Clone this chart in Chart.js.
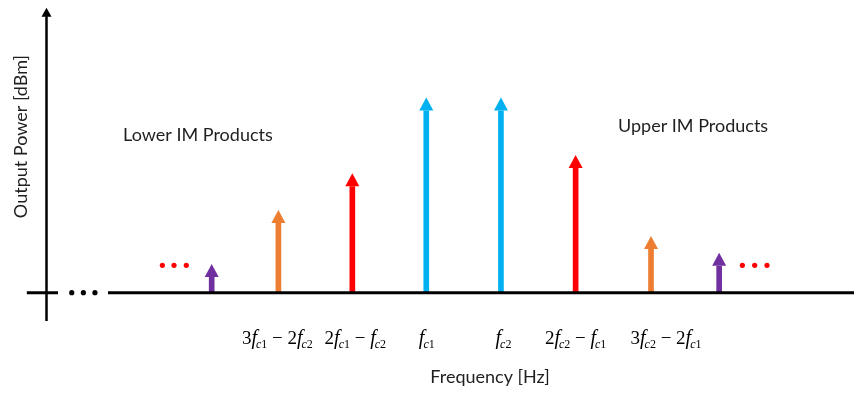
<!DOCTYPE html>
<html>
<head>
<meta charset="utf-8">
<script src="https://cdn.jsdelivr.net/npm/chart.js@4/dist/chart.umd.min.js"></script>
<style>
  html, body { margin: 0; padding: 0; background: #ffffff; }
  #wrap { width: 854px; height: 400px; }
</style>
</head>
<body>
<div id="wrap"><canvas id="spectrum"></canvas></div>
<script>
// Two-tone intermodulation spectrum: carriers f_c1, f_c2 and the IM products around them.
// Frequencies are in tone-spacing units, levels are relative output power.
const toneFreq   = [1, 1.92, 2.94, 3.96, 4.99, 6.02, 7.06, 8];
const tonePower  = [14.7, 42.4, 61.2, 100, 100, 70.6, 29.1, 20.5];
const toneColor  = ['#7030A0', '#ED7D31', '#FF0000', '#00B0F0', '#00B0F0', '#FF0000', '#ED7D31', '#7030A0'];

// Frequencies named under the axis
const tickFreq   = [1.92, 2.94, 3.96, 4.99, 6.02, 7.06];
const tickLabels = ['3f_{c1} − 2f_{c2}', '2f_{c1} − f_{c2}', 'f_{c1}', 'f_{c2}', '2f_{c2} − f_{c1}', '3f_{c2} − 2f_{c1}'];

// "more products" ellipses on both sides, and the break marks on the frequency axis
const moreLowFreq  = [0.32, 0.48, 0.65];
const moreHighFreq = [8.32, 8.49, 8.66];
const moreLevel    = [14.0, 14.0, 14.0];
const axisBreakFreq = [-0.93, -0.77, -0.61];

const groupTitles = ['Lower IM Products', 'Upper IM Products'];
const xTitle = 'Frequency [Hz]';
const yTitle = 'Output Power [dBm]';

const TEXT_FONT = 'Lato, "Open Sans", sans-serif';
const MATH_FONT = '"Liberation Serif", "DejaVu Serif", serif';
const HEAD_H = 13, HEAD_HALF = 7;

// Split "3f_{c1} − 2f_{c2}" into runs: plain, italic f, and subscripts
function mathRuns(str) {
  const runs = [];
  const re = /f_\{([^}]*)\}|([^f]+)/g;
  let m;
  while ((m = re.exec(str)) !== null) {
    if (m[1] !== undefined) {
      runs.push({ t: 'f', kind: 'fn' });
      runs.push({ t: m[1].charAt(0), kind: 'subIt' });
      runs.push({ t: m[1].slice(1), kind: 'sub' });
    } else {
      runs.push({ t: m[2].replace(/ /g, '\u2005'), kind: 'plain' });
    }
  }
  return runs;
}

function runFont(kind) {
  if (kind === 'fn') return 'italic 20px ' + MATH_FONT;
  if (kind === 'subIt') return 'italic 12px ' + MATH_FONT;
  if (kind === 'sub') return '12px ' + MATH_FONT;
  return '19px ' + MATH_FONT;
}

const spectrumDecor = {
  id: 'spectrumDecor',
  // keep the line shafts out of the arrow-head area so the tips stay sharp
  beforeDatasetDraw(chart, args) {
    if (args.index !== 0) return;
    const ctx = chart.ctx;
    ctx.save();
    ctx.beginPath();
    ctx.rect(0, 0, chart.width, chart.height);
    args.meta.data.forEach(bar => {
      ctx.rect(bar.x - HEAD_HALF, bar.y - 1, HEAD_HALF * 2, HEAD_H + 1);
    });
    ctx.clip('evenodd');
  },
  afterDatasetDraw(chart, args) {
    if (args.index !== 0) return;
    chart.ctx.restore();
  },
  afterDatasetsDraw(chart, args, opts) {
    const ctx = chart.ctx;
    const xs = chart.scales.x, ys = chart.scales.y;
    const y0 = ys.getPixelForValue(0);

    ctx.save();
    // frequency axis: short stub, break, then the long line
    ctx.strokeStyle = '#000';
    ctx.lineWidth = 3;
    ctx.beginPath();
    ctx.moveTo(xs.getPixelForValue(opts.stubFrom), y0);
    ctx.lineTo(xs.getPixelForValue(opts.stubTo), y0);
    ctx.moveTo(xs.getPixelForValue(opts.lineFrom), y0);
    ctx.lineTo(chart.width, y0);
    ctx.stroke();

    // power axis with arrow
    const ax = Math.round(xs.getPixelForValue(opts.yAxisAt)) + 0.5;
    const aTop = ys.getPixelForValue(opts.yAxisTop);
    const aBot = ys.getPixelForValue(opts.yAxisBottom);
    ctx.lineWidth = 2.5;
    ctx.beginPath();
    ctx.moveTo(ax, aBot);
    ctx.lineTo(ax, aTop + 6);
    ctx.stroke();
    ctx.fillStyle = '#000';
    ctx.beginPath();
    ctx.moveTo(ax, aTop);
    ctx.lineTo(ax - 5, aTop + 9);
    ctx.lineTo(ax + 5, aTop + 9);
    ctx.closePath();
    ctx.fill();

    // arrow heads on each spectral line
    const meta = chart.getDatasetMeta(0);
    meta.data.forEach((bar, i) => {
      ctx.fillStyle = toneColor[i];
      ctx.beginPath();
      ctx.moveTo(bar.x, bar.y);
      ctx.lineTo(bar.x - HEAD_HALF, bar.y + HEAD_H);
      ctx.lineTo(bar.x + HEAD_HALF, bar.y + HEAD_H);
      ctx.closePath();
      ctx.fill();
    });

    // frequency labels with italic f and subscripts
    ctx.textBaseline = 'alphabetic';
    ctx.textAlign = 'left';
    ctx.fillStyle = '#000';
    tickLabels.forEach((lab, i) => {
      const runs = mathRuns(lab);
      let w = 0;
      runs.forEach(r => { ctx.font = runFont(r.kind); r.w = ctx.measureText(r.t).width; w += r.w; });
      let x = xs.getPixelForValue(tickFreq[i]) + opts.labelNudge[i] - w / 2;
      const base = y0 + opts.labelDrop;
      runs.forEach(r => {
        ctx.font = runFont(r.kind);
        const isSub = r.kind === 'sub' || r.kind === 'subIt';
        ctx.fillText(r.t, x, isSub ? base + 4 : base);
        x += r.w + (r.kind === 'fn' ? -1 : 0);
      });
    });

    // group headings
    ctx.font = '18px ' + TEXT_FONT;
    ctx.fillStyle = '#1f1f1f';
    ctx.textAlign = 'center';
    opts.groupAt.forEach((p, i) => {
      ctx.fillText(groupTitles[i], xs.getPixelForValue(p[0]), ys.getPixelForValue(p[1]));
    });

    // axis titles
    ctx.font = '18px ' + TEXT_FONT;
    ctx.fillText(xTitle, xs.getPixelForValue(opts.xTitleAt), chart.height - 17);
    ctx.translate(27, ys.getPixelForValue(opts.yTitleAt));
    ctx.rotate(-Math.PI / 2);
    ctx.fillText(yTitle, 0, 0);
    ctx.restore();
  }
};

const toPoints = (xs, ys) => xs.map((x, i) => ({ x: x, y: ys[i] }));

new Chart(document.getElementById('spectrum'), {
  type: 'bar',
  data: {
    datasets: [
      {
        type: 'bar',
        data: toPoints(toneFreq, tonePower),
        backgroundColor: toneColor,
        barThickness: 5,
        borderWidth: 0
      },
      {
        type: 'scatter',
        data: toPoints(moreLowFreq.concat(moreHighFreq), moreLevel.concat(moreLevel)),
        pointRadius: 2.6,
        pointBackgroundColor: '#FF0000',
        pointBorderWidth: 0
      },
      {
        type: 'scatter',
        data: toPoints(axisBreakFreq, axisBreakFreq.map(() => 0)),
        pointRadius: 2.6,
        pointBackgroundColor: '#000000',
        pointBorderWidth: 0
      }
    ]
  },
  options: {
    responsive: true,
    maintainAspectRatio: false,
    animation: false,
    devicePixelRatio: 1,
    layout: { padding: 0, autoPadding: false },
    plugins: {
      legend: { display: false },
      tooltip: { enabled: false },
      spectrumDecor: {
        stubFrom: -1.55, stubTo: -1.12, lineFrom: -0.43,
        yAxisAt: -1.285, yAxisTop: 146, yAxisBottom: -14.5,
        labelDrop: 51,
        labelNudge: [0, 4, 1, 3, 1, 16],
        groupAt: [[0.81, 77.8], [7.64, 82.4]],
        xTitleAt: 4.84,
        yTitleAt: 80
      }
    },
    scales: {
      x: { type: 'linear', min: -1.92, max: 9.86, display: false, offset: false },
      y: { type: 'linear', min: -55, max: 150, display: false }
    }
  },
  plugins: [spectrumDecor]
});
</script>
</body>
</html>
